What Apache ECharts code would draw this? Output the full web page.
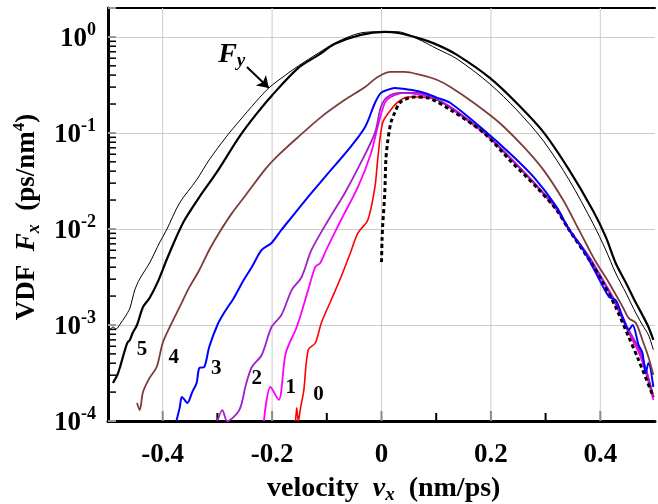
<!DOCTYPE html>
<html><head><meta charset="utf-8">
<script src="https://cdn.jsdelivr.net/npm/echarts@6.0.0/dist/echarts.min.js"></script>
<style>html,body{margin:0;padding:0;background:#fff}#c{width:658px;height:504px}</style>
</head><body><div id="c"></div>
<script>
// ---- data: [velocity v_x (nm/ps), VDF (ps/nm^4)] ----
const curveFy = [[-0.500,8.26e-4],[-0.491,9.53e-4],[-0.485,9.09e-4],[-0.478,1.02e-3],[-0.469,1.21e-3],[-0.460,1.50e-3],[-0.451,2.32e-3],[-0.442,3.02e-3],[-0.424,4.42e-3],[-0.406,7.15e-3],[-0.393,9.77e-3],[-0.369,0.0187],[-0.338,0.0324],[-0.315,0.0524],[-0.284,0.0909],[-0.260,0.133],[-0.230,0.210],[-0.206,0.294],[-0.175,0.402],[-0.152,0.499],[-0.115,0.681],[-0.085,0.866],[-0.038,1.10],[-0.001,1.13],[0.030,1.13],[0.066,0.953],[0.102,0.750],[0.138,0.590],[0.198,0.324],[0.247,0.174],[0.296,0.0826],[0.343,0.0324],[0.387,0.0113],[0.410,6.04e-3],[0.428,3.48e-3],[0.447,2.15e-3],[0.465,1.33e-3],[0.477,1.0e-3],[0.488,7.87e-4],[0.497,5.5e-4]];
const curve5 = [[-0.491,2.49e-4],[-0.483,3.01e-4],[-0.478,3.65e-4],[-0.465,6.49e-4],[-0.460,6.98e-4],[-0.455,8.26e-4],[-0.447,1.0e-3],[-0.436,1.54e-3],[-0.424,1.91e-3],[-0.409,2.81e-3],[-0.393,4.75e-3],[-0.375,8.26e-3],[-0.360,0.0124],[-0.333,0.0215],[-0.302,0.0383],[-0.260,0.0909],[-0.230,0.154],[-0.201,0.243],[-0.152,0.475],[-0.115,0.649],[-0.085,0.846],[-0.038,1.05],[0.006,1.127],[0.030,1.10],[0.066,0.976],[0.102,0.826],[0.138,0.649],[0.198,0.374],[0.247,0.205],[0.296,0.102],[0.343,0.0412],[0.387,0.0154],[0.410,8.26e-3],[0.428,4.42e-3],[0.447,2.74e-3],[0.465,1.70e-3],[0.477,1.27e-3],[0.488,9.53e-4],[0.497,6.98e-4]];
const curve4 = [[-0.447,1.54e-4],[-0.442,1.30e-4],[-0.436,2.0e-4],[-0.424,2.81e-4],[-0.411,3.65e-4],[-0.400,6.49e-4],[-0.387,9.53e-4],[-0.369,1.54e-3],[-0.351,2.49e-3],[-0.333,3.74e-3],[-0.315,6.04e-3],[-0.297,9.09e-3],[-0.273,0.0147],[-0.248,0.0226],[-0.212,0.0422],[-0.188,0.0590],[-0.152,0.0909],[-0.110,0.147],[-0.067,0.221],[-0.030,0.301],[-0.007,0.383],[0.017,0.432],[0.042,0.432],[0.071,0.402],[0.102,0.356],[0.126,0.301],[0.169,0.205],[0.216,0.127],[0.260,0.0715],[0.296,0.0412],[0.332,0.0200],[0.361,9.77e-3],[0.380,6.04e-3],[0.392,4.53e-3],[0.416,2.74e-3],[0.441,1.54e-3],[0.452,1.18e-3],[0.465,1.05e-3],[0.477,6.98e-4],[0.488,4.64e-4],[0.497,3.01e-4]];
const curve3 = [[-0.375,1.0e-4],[-0.369,1.37e-4],[-0.365,1.78e-4],[-0.360,1.66e-4],[-0.355,1.54e-4],[-0.346,2.0e-4],[-0.338,2.49e-4],[-0.333,3.56e-4],[-0.324,3.65e-4],[-0.315,5.9e-4],[-0.300,1.0e-3],[-0.288,1.33e-3],[-0.270,1.91e-3],[-0.255,2.74e-3],[-0.237,4.02e-3],[-0.219,6.04e-3],[-0.201,7.15e-3],[-0.183,9.77e-3],[-0.164,0.0133],[-0.139,0.0200],[-0.097,0.0383],[-0.061,0.0665],[-0.030,0.1155],[-0.012,0.205],[-0.001,0.261],[0.011,0.281],[0.024,0.294],[0.053,0.281],[0.079,0.261],[0.102,0.232],[0.126,0.205],[0.187,0.1074],[0.234,0.0619],[0.278,0.0348],[0.320,0.0170],[0.343,9.77e-3],[0.369,6.04e-3],[0.392,3.48e-3],[0.416,1.96e-3],[0.428,1.82e-3],[0.441,1.21e-3],[0.452,8.87e-4],[0.459,1.0e-3],[0.470,6.19e-4],[0.477,5.11e-4],[0.483,3.16e-4],[0.488,4.02e-4],[0.497,2.26e-4]];
const curve2 = [[-0.300,1.0e-4],[-0.291,1.30e-4],[-0.282,1.0e-4],[-0.260,1.30e-4],[-0.248,2.37e-4],[-0.237,3.65e-4],[-0.219,4.87e-4],[-0.201,9.53e-4],[-0.183,1.27e-3],[-0.164,2.32e-3],[-0.146,3.16e-3],[-0.128,6.04e-3],[-0.097,0.0124],[-0.067,0.0237],[-0.038,0.0487],[-0.012,0.100],[-0.001,0.187],[0.011,0.237],[0.035,0.261],[0.066,0.261],[0.102,0.221],[0.126,0.187],[0.187,0.1024],[0.234,0.0562],[0.283,0.0287],[0.320,0.0166],[0.343,0.0100],[0.380,5.1e-3],[0.405,2.94e-3],[0.428,1.73e-3],[0.452,8.87e-4],[0.470,5.75e-4],[0.483,3.56e-4],[0.497,1.78e-4]];
const curve1 = [[-0.215,1.0e-4],[-0.203,2.26e-4],[-0.188,1.66e-4],[-0.175,5.11e-4],[-0.155,9.53e-4],[-0.134,2.32e-3],[-0.121,4.02e-3],[-0.112,4.42e-3],[-0.101,6.04e-3],[-0.074,0.0124],[-0.043,0.0274],[-0.019,0.0619],[-0.007,0.1155],[0.006,0.205],[0.017,0.237],[0.042,0.261],[0.071,0.249],[0.102,0.221],[0.126,0.182],[0.187,0.100],[0.234,0.0549],[0.283,0.0280],[0.320,0.0158],[0.343,9.77e-3],[0.380,4.87e-3],[0.405,2.81e-3],[0.428,1.62e-3],[0.452,8.26e-4],[0.470,5.24e-4],[0.483,3.22e-4],[0.497,1.66e-4]];
const curve0 = [[-0.157,1.0e-4],[-0.155,1.37e-4],[-0.152,1.0e-4],[-0.148,1.37e-4],[-0.142,2.1e-4],[-0.134,5.5e-4],[-0.121,6.49e-4],[-0.110,1.05e-3],[-0.092,1.82e-3],[-0.074,3.16e-3],[-0.057,5.62e-3],[-0.043,9.09e-3],[-0.025,0.0124],[-0.012,0.0274],[-0.007,0.0524],[0.002,0.127],[0.017,0.174],[0.030,0.210],[0.048,0.237],[0.071,0.237],[0.102,0.221],[0.126,0.182],[0.187,0.100],[0.234,0.0562],[0.283,0.0280],[0.320,0.0162],[0.343,0.0100],[0.380,5.0e-3],[0.405,2.87e-3],[0.428,1.68e-3],[0.452,8.66e-4],[0.470,5.36e-4],[0.483,3.46e-4],[0.497,1.82e-4]];
const curveDashed = [[0.000,4.53e-3],[0.001,7.68e-3],[0.002,0.0105],[0.006,0.0237],[0.008,0.0524],[0.011,0.0787],[0.017,0.127],[0.024,0.162],[0.035,0.210],[0.060,0.237],[0.084,0.232],[0.126,0.174],[0.187,0.100],[0.234,0.0524],[0.283,0.0274],[0.320,0.0158],[0.343,9.77e-3],[0.380,4.75e-3],[0.405,2.74e-3],[0.428,1.54e-3],[0.452,7.5e-4],[0.470,4.32e-4],[0.497,1.78e-4]];

// ---- axes / ticks ----
const xMajorTicks = [-0.4, -0.2, 0, 0.2, 0.4];
const xTickLabels = ['-0.4', '-0.2', '0', '0.2', '0.4'];
const xMinorTicks = [-0.3, -0.1, 0.1, 0.3];
const yDecades = [1e-4, 1e-3, 1e-2, 1e-1, 1];
const yExponents = ['-4', '-3', '-2', '-1', '0'];
const yMinorTicks = [2e-4,3e-4,4e-4,5e-4,6e-4,7e-4,8e-4,9e-4,2e-3,3e-3,4e-3,5e-3,6e-3,7e-3,8e-3,9e-3,0.02,0.03,0.04,0.05,0.06,0.07,0.08,0.09,0.2,0.3,0.4,0.5,0.6,0.7,0.8,0.9];

// ---- annotations (data coordinates) ----
const curveLabelTexts = ['5', '4', '3', '2', '1', '0'];
const curveLabelV = [-0.438, -0.380, -0.302, -0.228, -0.166, -0.115];
const curveLabelF = [5.5e-4, 4.53e-4, 3.48e-4, 2.74e-4, 2.21e-4, 1.87e-4];
const fyLabelAt = [-0.2986, 0.649];
const fyArrow = [[-0.246, 0.487], [-0.206, 0.294]];

const X_MIN = -0.5, X_MAX = 0.5, Y_MIN = 1e-4, Y_MAX = 2;
const FONT = '"Liberation Serif","Times New Roman",serif';

const chart = echarts.init(document.getElementById('c'), null, {renderer: 'canvas'});

function lineSeries(name, data, color, width, type, z) {
  return {name, type: 'line', data, showSymbol: false, symbol: 'none', smooth: 0.3,
    silent: true, z, lineStyle: {color, width, type}, emphasis: {disabled: true}};
}

const fyLine = lineSeries('Fy', curveFy, '#000000', 1, 'solid', 9);
fyLine.markLine = {silent: true, symbol: ['none', 'arrow'], symbolSize: 11, animation: false,
  lineStyle: {color: '#000', width: 2, type: 'solid'}, label: {show: false},
  data: [[{coord: fyArrow[0]}, {coord: fyArrow[1]}]]};

chart.setOption({
  animation: false,
  grid: {left: 108, top: 8, width: 551.6, height: 413},
  xAxis: [{
    type: 'value', min: X_MIN, max: X_MAX, interval: 0.1,
    axisLine: {show: true, onZero: false, lineStyle: {color: '#000', width: 3}},
    axisTick: {show: false}, splitLine: {show: false},
    axisLabel: {margin: 21, color: '#000', fontFamily: FONT, fontWeight: 'bold', fontSize: 27,
      formatter: v => { const i = xMajorTicks.findIndex(t => Math.abs(t - v) < 1e-6); return i >= 0 ? xTickLabels[i] : ''; }}
  }, {
    type: 'value', position: 'top', min: X_MIN, max: X_MAX, interval: 0.1,
    axisLine: {show: true, onZero: false, lineStyle: {color: '#000', width: 2}},
    axisTick: {show: false}, axisLabel: {show: false}, splitLine: {show: false}
  }],
  yAxis: {
    type: 'log', logBase: 10, min: Y_MIN, max: Y_MAX,
    axisLine: {show: true, onZero: false, lineStyle: {color: '#000', width: 3}},
    axisTick: {show: true, inside: true, length: 8, lineStyle: {color: '#999', width: 2}},
    splitLine: {show: true, lineStyle: {color: '#cccccc', width: 1}},
    axisLabel: {margin: 12, color: '#000', fontFamily: FONT, fontWeight: 'bold', fontSize: 27,
      formatter: v => { const i = yDecades.findIndex(d => Math.abs(Math.log10(d) - Math.log10(v)) < 1e-6); return i >= 0 ? '{b|10}{s|' + yExponents[i] + '}' : ''; },
      rich: {
        b: {fontFamily: FONT, fontWeight: 'bold', fontSize: 27, lineHeight: 32, verticalAlign: 'bottom', color: '#000'},
        s: {fontFamily: FONT, fontWeight: 'bold', fontSize: 18, lineHeight: 18, verticalAlign: 'top', color: '#000'}
      }}
  },
  series: [
    {type: 'custom', silent: true, z: 1, data: xMajorTicks.map(v => [v, Y_MIN]),
      renderItem: (p, api) => { const a = api.coord([api.value(0), Y_MIN]); const b = api.coord([api.value(0), Y_MAX]);
        return {type: 'group', children: [
          {type: 'line', shape: {x1: a[0], y1: a[1], x2: b[0], y2: b[1]}, style: {stroke: '#cccccc', lineWidth: 1}},
          {type: 'line', shape: {x1: a[0], y1: a[1], x2: a[0], y2: a[1] - 10}, style: {stroke: '#888', lineWidth: 2}}]}; }},
    {type: 'custom', silent: true, z: 1, data: xMinorTicks.map(v => [v, Y_MIN]),
      renderItem: (p, api) => { const a = api.coord([api.value(0), Y_MIN]);
        return {type: 'line', shape: {x1: a[0], y1: a[1], x2: a[0], y2: a[1] - 8}, style: {stroke: '#000', lineWidth: 2}}; }},
    {type: 'custom', silent: true, z: 1, data: yMinorTicks.map(v => [X_MIN, v]),
      renderItem: (p, api) => { const a = api.coord([X_MIN, api.value(1)]);
        return {type: 'line', shape: {x1: a[0], y1: a[1], x2: a[0] + 8, y2: a[1]}, style: {stroke: '#000', lineWidth: 1.5}}; }},
    lineSeries('0', curve0, '#ff0000', 1.6, 'solid', 3),
    lineSeries('1', curve1, '#ff00ff', 1.8, 'solid', 4),
    lineSeries('2', curve2, '#a020c8', 1.8, 'solid', 5),
    lineSeries('dashed', curveDashed, '#000000', 3, [4, 3], 6),
    lineSeries('3', curve3, '#0000ff', 2, 'solid', 7),
    lineSeries('4', curve4, '#7d3c3a', 1.8, 'solid', 8),
    lineSeries('5', curve5, '#000000', 2.2, 'solid', 9),
    fyLine
  ]
});

const S = chart.getOption().series.length - 1;
function px(pt) { return chart.convertToPixel({seriesIndex: S}, pt); }
const graphics = [];
curveLabelTexts.forEach((t, i) => {
  const p = px([curveLabelV[i], curveLabelF[i]]);
  graphics.push({type: 'text', x: p[0], y: p[1], z: 20, silent: true,
    style: {text: t, font: 'bold 21px ' + FONT, fill: '#000', align: 'center', verticalAlign: 'middle'}});
});
const fp = px(fyLabelAt);
graphics.push({type: 'text', x: fp[0], y: fp[1], z: 20, silent: true,
  style: {text: '{F|F}{y|y}', align: 'left', verticalAlign: 'middle',
    rich: {F: {fontFamily: FONT, fontWeight: 'bold', fontStyle: 'italic', fontSize: 28, lineHeight: 32, verticalAlign: 'middle', fill: '#000'},
           y: {fontFamily: FONT, fontWeight: 'bold', fontStyle: 'italic', fontSize: 19, lineHeight: 19, verticalAlign: 'bottom', fill: '#000'}}}});
graphics.push({type: 'text', x: 383.7, y: 489, z: 20, silent: true,
  style: {text: '{b|velocity  }{i|v}{sub|x}{b|  (nm/ps)}', align: 'center', verticalAlign: 'middle',
    rich: {b: {fontFamily: FONT, fontWeight: 'bold', fontSize: 28, lineHeight: 32, fill: '#000'},
           i: {fontFamily: FONT, fontWeight: 'bold', fontStyle: 'italic', fontSize: 28, lineHeight: 32, fill: '#000'},
           sub: {fontFamily: FONT, fontWeight: 'bold', fontStyle: 'italic', fontSize: 19, lineHeight: 19, verticalAlign: 'bottom', fill: '#000'}}}});
graphics.push({type: 'text', x: 27, y: 217, rotation: Math.PI / 2, z: 20, silent: true,
  style: {text: '{b|VDF  }{i|F}{sub|x}{b|  (ps/nm}{sup|4}{b|)}', align: 'center', verticalAlign: 'middle',
    rich: {b: {fontFamily: FONT, fontWeight: 'bold', fontSize: 27, lineHeight: 32, fill: '#000'},
           i: {fontFamily: FONT, fontWeight: 'bold', fontStyle: 'italic', fontSize: 27, lineHeight: 32, fill: '#000'},
           sub: {fontFamily: FONT, fontWeight: 'bold', fontStyle: 'italic', fontSize: 18, lineHeight: 18, verticalAlign: 'bottom', fill: '#000'},
           sup: {fontFamily: FONT, fontWeight: 'bold', fontSize: 17, lineHeight: 17, verticalAlign: 'top', fill: '#000'}}}});
chart.setOption({graphic: graphics});
</script></body></html>
